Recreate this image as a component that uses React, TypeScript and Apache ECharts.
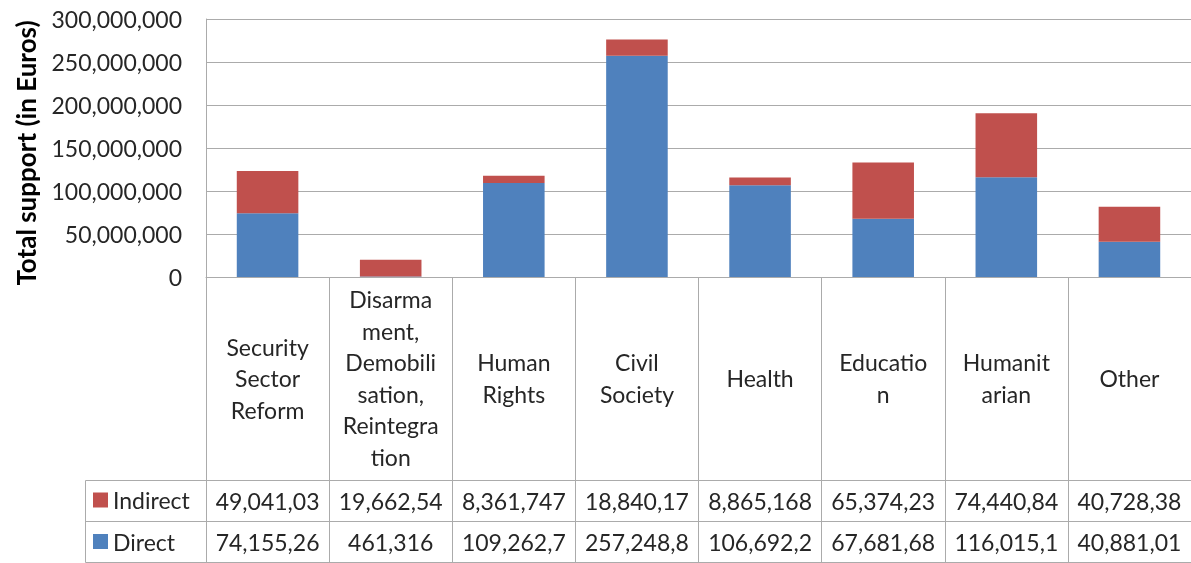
import React, { useEffect, useRef } from "react";
import * as echarts from "echarts";

const categories = [
  "Security\nSector\nReform",
  "Disarma\nment,\nDemobili\nsation,\nReintegra\ntion",
  "Human\nRights",
  "Civil\nSociety",
  "Health",
  "Educatio\nn",
  "Humanit\narian",
  "Other",
];
const directValues = [74155260, 461316, 109262700, 257248800, 106692200, 67681680, 116015100, 40881010];
const indirectValues = [49041030, 19662540, 8361747, 18840170, 8865168, 65374230, 74440840, 40728380];
const seriesNames = ["Indirect", "Direct"];
const yAxisTitle = "Total support (in Euros)";

const fmt = (v: number) => Number(v).toLocaleString("en-US");
const cell = (v: number) => fmt(v).slice(0, 9);

export default function App() {
  const ref = useRef<HTMLDivElement>(null);
  useEffect(() => {
    const chart = echarts.init(ref.current!, null, { renderer: "svg" });
    const font = "Lato";
    const textColor = "#262626";
    const lineColor = "#ABABAB";
    const fontSize = 23;
    const tableLeft = 85.5;
    const tableRight = 1198;
    const rowLines = [480.5, 521.5, 562.5];
    chart.setOption({
      animation: false,
      textStyle: { fontFamily: font },
      legend: {
        data: seriesNames,
        orient: "vertical",
        left: 93,
        top: 488,
        padding: 0,
        icon: "rect",
        itemWidth: 15,
        itemHeight: 15,
        itemGap: 17.5,
        selectedMode: false,
        textStyle: { fontSize, color: textColor, lineHeight: 24, fontFamily: font },
      },
      grid: { left: 206, top: 19, right: -7, bottom: 286, containLabel: false },
      xAxis: [
        {
          type: "category",
          data: categories,
          position: "bottom",
          axisLine: { lineStyle: { color: lineColor } },
          axisTick: { show: true, length: 286, interval: 0, lineStyle: { color: lineColor } },
          axisLabel: {
            interval: 0,
            margin: 101,
            verticalAlign: "middle",
            fontSize,
            lineHeight: 31.5,
            color: textColor,
            fontFamily: font,
          },
        },
        {
          type: "category",
          data: indirectValues.map(cell),
          position: "bottom",
          axisLine: { show: false },
          axisTick: { show: false },
          axisLabel: { interval: 0, margin: 224, verticalAlign: "middle", fontSize, color: textColor, fontFamily: font },
        },
        {
          type: "category",
          data: directValues.map(cell),
          position: "bottom",
          axisLine: { show: false },
          axisTick: { show: false },
          axisLabel: { interval: 0, margin: 265, verticalAlign: "middle", fontSize, color: textColor, fontFamily: font },
        },
      ],
      yAxis: {
        type: "value",
        min: 0,
        max: 300000000,
        interval: 50000000,
        name: yAxisTitle,
        nameLocation: "middle",
        nameGap: 167,
        nameTextStyle: { fontWeight: "bold", fontSize: 26, color: "#000", fontFamily: font, padding: [0, 10, 0, 0] },
        axisLine: { show: true, lineStyle: { color: lineColor } },
        axisTick: { show: false },
        splitLine: { lineStyle: { color: lineColor } },
        axisLabel: { formatter: (v: number) => fmt(v), fontSize, margin: 24, color: textColor, fontFamily: font },
      },
      series: [
        {
          name: "Direct",
          type: "bar",
          stack: "total",
          data: directValues,
          barWidth: "50%",
          itemStyle: { color: "#4F81BD" },
        },
        {
          name: "Indirect",
          type: "bar",
          stack: "total",
          data: indirectValues,
          barWidth: "50%",
          itemStyle: { color: "#C0504D" },
        },
      ],
      graphic: [
        ...rowLines.map((y) => ({
          type: "line",
          shape: { x1: tableLeft, y1: y, x2: tableRight, y2: y },
          style: { stroke: lineColor, lineWidth: 1 },
          silent: true,
        })),
        {
          type: "line",
          shape: { x1: tableLeft, y1: rowLines[0], x2: tableLeft, y2: rowLines[2] },
          style: { stroke: lineColor, lineWidth: 1 },
          silent: true,
        },
      ],
    });
    return () => chart.dispose();
  }, []);
  return <div ref={ref} style={{ position: "fixed", left: 0, top: 0, width: 1191, height: 563 }} />;
}
